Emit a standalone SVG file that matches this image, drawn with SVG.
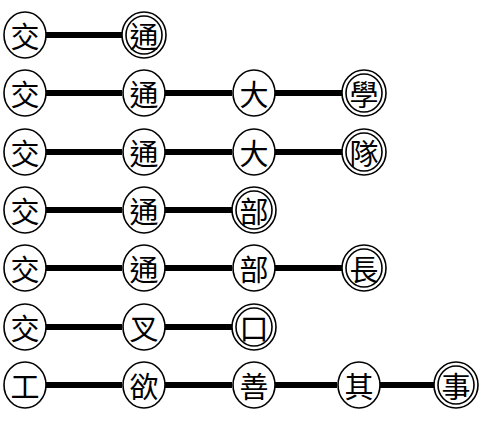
<svg xmlns="http://www.w3.org/2000/svg" width="482" height="422" viewBox="0 0 482 422">
<style>
.n ellipse{fill:#fff;stroke:#000;stroke-width:1.6}
.n text{font-family:"Noto Sans CJK TC","Noto Sans CJK SC",sans-serif;font-size:29px;text-anchor:middle;dominant-baseline:central;fill:#000}
.e line{stroke:#000;stroke-width:6}
</style>
<rect width="482" height="422" fill="#fff"/>
<g id="edges" class="e">
<line x1="46" y1="35" x2="122" y2="35"/>
<line x1="46" y1="93" x2="122" y2="93"/><line x1="165" y1="93" x2="232" y2="93"/><line x1="275" y1="93" x2="342" y2="93"/>
<line x1="46" y1="152" x2="122" y2="152"/><line x1="165" y1="152" x2="232" y2="152"/><line x1="275" y1="152" x2="342" y2="152"/>
<line x1="46" y1="210" x2="122" y2="210"/><line x1="165" y1="210" x2="232" y2="210"/>
<line x1="46" y1="268" x2="122" y2="268"/><line x1="165" y1="268" x2="232" y2="268"/><line x1="275" y1="268" x2="342" y2="268"/>
<line x1="46" y1="327" x2="122" y2="327"/><line x1="165" y1="327" x2="232" y2="327"/>
<line x1="46" y1="385" x2="122" y2="385"/><line x1="165" y1="385" x2="232" y2="385"/><line x1="275" y1="385" x2="337" y2="385"/><line x1="380" y1="385" x2="434" y2="385"/>
</g>
<g id="r1a" class="n"><ellipse cx="25" cy="35" rx="21" ry="23"/><text x="25" y="35">交</text></g>
<g id="r1b" class="n"><ellipse cx="144" cy="35" rx="22" ry="23"/><ellipse cx="144" cy="35" rx="18" ry="19"/><text x="144" y="35">通</text></g>
<g id="r2a" class="n"><ellipse cx="25" cy="93" rx="21" ry="23"/><text x="25" y="93">交</text></g>
<g id="r2b" class="n"><ellipse cx="144" cy="93" rx="21" ry="23"/><text x="144" y="93">通</text></g>
<g id="r2c" class="n"><ellipse cx="254" cy="93" rx="21" ry="23"/><text x="254" y="93">大</text></g>
<g id="r2d" class="n"><ellipse cx="364" cy="93" rx="22" ry="23"/><ellipse cx="364" cy="93" rx="18" ry="19"/><text x="364" y="93">學</text></g>
<g id="r3a" class="n"><ellipse cx="25" cy="152" rx="21" ry="23"/><text x="25" y="152">交</text></g>
<g id="r3b" class="n"><ellipse cx="144" cy="152" rx="21" ry="23"/><text x="144" y="152">通</text></g>
<g id="r3c" class="n"><ellipse cx="254" cy="152" rx="21" ry="23"/><text x="254" y="152">大</text></g>
<g id="r3d" class="n"><ellipse cx="364" cy="152" rx="22" ry="23"/><ellipse cx="364" cy="152" rx="18" ry="19"/><text x="364" y="152">隊</text></g>
<g id="r4a" class="n"><ellipse cx="25" cy="210" rx="21" ry="23"/><text x="25" y="210">交</text></g>
<g id="r4b" class="n"><ellipse cx="144" cy="210" rx="21" ry="23"/><text x="144" y="210">通</text></g>
<g id="r4c" class="n"><ellipse cx="254" cy="210" rx="22" ry="23"/><ellipse cx="254" cy="210" rx="18" ry="19"/><text x="254" y="210">部</text></g>
<g id="r5a" class="n"><ellipse cx="25" cy="268" rx="21" ry="23"/><text x="25" y="268">交</text></g>
<g id="r5b" class="n"><ellipse cx="144" cy="268" rx="21" ry="23"/><text x="144" y="268">通</text></g>
<g id="r5c" class="n"><ellipse cx="254" cy="268" rx="21" ry="23"/><text x="254" y="268">部</text></g>
<g id="r5d" class="n"><ellipse cx="364" cy="268" rx="22" ry="23"/><ellipse cx="364" cy="268" rx="18" ry="19"/><text x="364" y="268">長</text></g>
<g id="r6a" class="n"><ellipse cx="25" cy="327" rx="21" ry="23"/><text x="25" y="327">交</text></g>
<g id="r6b" class="n"><ellipse cx="144" cy="327" rx="21" ry="23"/><text x="144" y="327">叉</text></g>
<g id="r6c" class="n"><ellipse cx="254" cy="327" rx="22" ry="23"/><ellipse cx="254" cy="327" rx="18" ry="19"/><text x="254" y="327">口</text></g>
<g id="r7a" class="n"><ellipse cx="25" cy="385" rx="21" ry="23"/><text x="25" y="385">工</text></g>
<g id="r7b" class="n"><ellipse cx="144" cy="385" rx="21" ry="23"/><text x="144" y="385">欲</text></g>
<g id="r7c" class="n"><ellipse cx="254" cy="385" rx="21" ry="23"/><text x="254" y="385">善</text></g>
<g id="r7d" class="n"><ellipse cx="359" cy="385" rx="21" ry="23"/><text x="359" y="385">其</text></g>
<g id="r7e" class="n"><ellipse cx="456" cy="385" rx="22" ry="23"/><ellipse cx="456" cy="385" rx="18" ry="19"/><text x="456" y="385">事</text></g>
</svg>
